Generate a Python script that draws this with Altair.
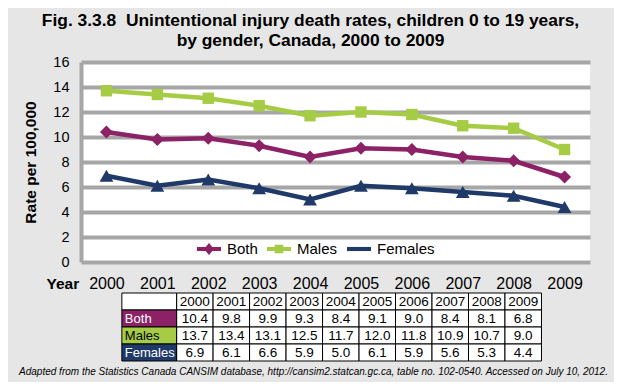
import altair as alt
import pandas as pd

years = [2000, 2001, 2002, 2003, 2004, 2005, 2006, 2007, 2008, 2009]
series = ["Both", "Males", "Females"]
both = [10.4, 9.8, 9.9, 9.3, 8.4, 9.1, 9.0, 8.4, 8.1, 6.8]
males = [13.7, 13.4, 13.1, 12.5, 11.7, 12.0, 11.8, 10.9, 10.7, 9.0]
females = [6.9, 6.1, 6.6, 5.9, 5.0, 6.1, 5.9, 5.6, 5.3, 4.4]
colors = ["#8c2166", "#a6cc46", "#1f3a68"]
label_colors = ["white", "black", "white"]
y_ticks = [0, 2, 4, 6, 8, 10, 12, 14, 16]
title_lines = [
    "Fig. 3.3.8\u00a0 Unintentional injury death rates, children 0 to 19 years,",
    "by gender, Canada, 2000 to 2009",
]
footnote = ("Adapted from the Statistics Canada CANSIM database, http://cansim2.statcan.gc.ca, "
            "table no. 102-0540. Accessed on July 10, 2012.")

FONT = "Liberation Sans, Arial, sans-serif"
GRID = "#a6a6a6"

rows = []
for s, vals in zip(series, [both, males, females]):
    for y, v in zip(years, vals):
        rows.append({"year": y, "series": s, "value": v})
df = pd.DataFrame(rows)

color_scale = alt.Scale(domain=series, range=colors)

base = alt.Chart(df).encode(
    x=alt.X("year:O", scale=alt.Scale(type="point", padding=0.5),
            axis=alt.Axis(title="Year", titleFont=FONT, titleFontSize=15.5, titleFontWeight="bold",
                          titleAngle=0, titleAlign="left", titleBaseline="top", titleX=-35, titleY=14,
                          titleColor="black", labelAngle=0, labelFontSize=16, labelPadding=13,
                          labelColor="black", labelFont=FONT, domain=False, ticks=False, grid=False)),
    y=alt.Y("value:Q", scale=alt.Scale(domain=[0, 16], nice=False),
            axis=alt.Axis(values=y_ticks, grid=True, gridColor=GRID, gridWidth=4, gridOpacity=1,
                          domainColor=GRID, domainWidth=4, ticks=False, labelFontSize=14.5,
                          labelPadding=12, labelColor="black", labelFont=FONT,
                          title="Rate per 100,000", titleFontSize=15.5, titleFontWeight="bold",
                          titleFont=FONT, titlePadding=14, titleColor="black")),
    color=alt.Color("series:N", scale=color_scale, legend=None),
)

lines = base.mark_line(strokeWidth=4.5)
pts_both = base.transform_filter(alt.datum.series == "Both").mark_point(
    shape="diamond", filled=True, size=170, opacity=1)
pts_m = base.transform_filter(alt.datum.series == "Males").mark_point(
    shape="square", filled=True, size=130, opacity=1)
pts_f = base.transform_filter(alt.datum.series == "Females").mark_point(
    shape="triangle-up", filled=True, size=190, opacity=1)

legend_paths = [
    "M-1,-0.17H1V0.17H-1Z M0,-0.5L0.42,0L0,0.5L-0.42,0Z",
    "M-1,-0.17H1V0.17H-1Z M-0.36,-0.36H0.36V0.36H-0.36Z",
    "M-1,-0.17H1V0.17H-1Z",
]
legend_def = alt.Legend(title=None, orient="none", legendX=116, legendY=175, direction="horizontal",
                        labelFontSize=15, labelFont=FONT, labelColor="black", symbolSize=576,
                        symbolStrokeWidth=0, symbolOpacity=1, labelOffset=6, columnPadding=9)
leg = alt.Chart(df).transform_filter("datum.value < 0").mark_point(filled=True, opacity=1).encode(
    color=alt.Color("series:N", scale=color_scale, legend=legend_def),
    shape=alt.Shape("series:N", scale=alt.Scale(domain=series, range=legend_paths), legend=legend_def),
)

line_chart = alt.layer(lines, pts_both, pts_m, pts_f, leg).properties(
    width=509, height=200, view=alt.ViewBackground(fill="white", strokeWidth=0))

# ---------- table ----------
row_order = ["hdr"] + series
hdr_cells = []
for i, y in enumerate(years):
    hdr_cells.append({"row": "hdr", "x": i - 0.5, "x2": i + 0.5, "xc": i, "label": str(y)})
hdr_cells.append({"row": "hdr", "x": -2.0, "x2": -0.5, "xc": -1.25, "label": ""})
hdr_df = pd.DataFrame(hdr_cells)
val_cells = []
for s, vals in zip(series, [both, males, females]):
    for i, v in enumerate(vals):
        val_cells.append({"row": s, "x": i - 0.5, "x2": i + 0.5, "xc": i, "label": f"{v:.1f}"})
val_df = pd.DataFrame(val_cells)
rh_df = pd.DataFrame({"row": series, "x": [-2.0] * 3, "x2": [-0.5] * 3, "label": series})

tx = alt.Scale(domain=[-3.12, 10.83], nice=False, zero=False)
ty = alt.Scale(domain=row_order, paddingInner=0, paddingOuter=0)

def cell_rects(d):
    return alt.Chart(d).mark_rect(fill="white", stroke="black", strokeWidth=1).encode(
        x=alt.X("x:Q", scale=tx, axis=None), x2="x2:Q",
        y=alt.Y("row:N", scale=ty, axis=None))

def cell_texts(d, size):
    return alt.Chart(d).mark_text(fontSize=size, font=FONT, color="black", baseline="middle").encode(
        x=alt.X("xc:Q", scale=tx, axis=None),
        y=alt.Y("row:N", scale=ty, axis=None), text="label:N")

rh_rects = alt.Chart(rh_df).mark_rect(stroke="black", strokeWidth=1).encode(
    x=alt.X("x:Q", scale=tx, axis=None), x2="x2:Q",
    y=alt.Y("row:N", scale=ty, axis=None),
    fill=alt.Fill("label:N", scale=alt.Scale(domain=series, range=colors), legend=None))
rh_texts = alt.Chart(rh_df).mark_text(fontSize=13, font=FONT, align="left", dx=3, baseline="middle").encode(
    x=alt.X("x:Q", scale=tx, axis=None),
    y=alt.Y("row:N", scale=ty, axis=None), text="label:N",
    color=alt.Color("label:N", scale=alt.Scale(domain=series, range=label_colors), legend=None))

table_chart = alt.layer(
    cell_rects(hdr_df), cell_rects(val_df),
    cell_texts(hdr_df, 13.5), cell_texts(val_df, 13.5),
    rh_rects, rh_texts,
).properties(
    width=509, height=68,
    view=alt.ViewBackground(strokeWidth=0, fillOpacity=0),
    title=alt.TitleParams(text=footnote, orient="bottom", fontSize=10, fontStyle="italic",
                          fontWeight="normal", font=FONT, anchor="middle", dx=-22, offset=5,
                          color="black"))

chart = alt.vconcat(line_chart, table_chart, spacing=0).properties(
    title=alt.TitleParams(text=title_lines, fontSize=17.4, fontWeight="bold", font=FONT, lineHeight=20,
                          anchor="middle", dx=-3, offset=5, color="black")
).resolve_scale(color="independent").configure(
    background="#e6e6e6", padding={"left": 10, "top": 3, "right": 5, "bottom": 5}
).configure_view(strokeWidth=0)

chart.save("out.html", embed_options={"renderer": "svg", "actions": False})
